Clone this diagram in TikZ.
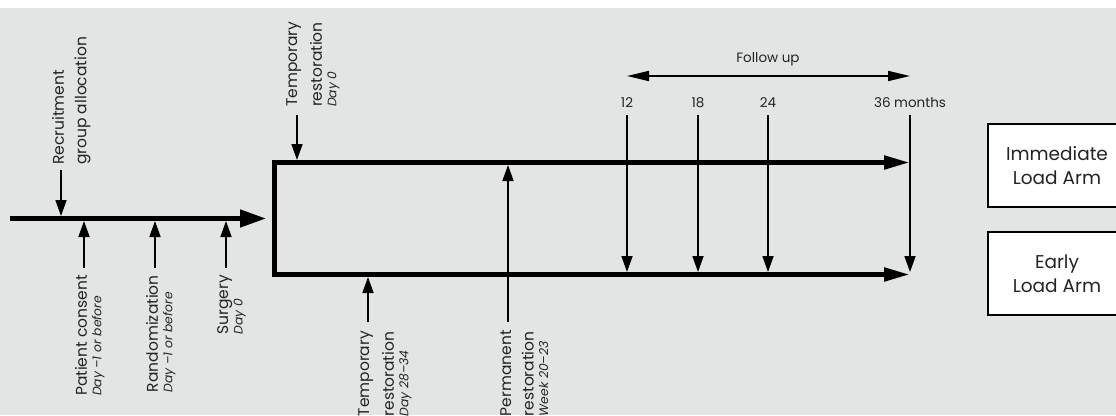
\documentclass[tikz,border=0pt]{standalone}
\usepackage{fontspec}
\setmainfont{Poppins}
\usetikzlibrary{arrows.meta}
\definecolor{bg}{RGB}{227,228,228}
\definecolor{txt}{RGB}{35,35,35}
\newcommand\smtx{\fontsize{12.3}{12}\selectfont\itshape}
\begin{document}
\begin{tikzpicture}[x=1pt,y=-1pt,
  thickarr/.style={line width=4.6pt,-{Triangle[length=26pt,width=17pt]}},
  boxarr/.style={line width=5pt,line join=miter,{Triangle[length=26pt,width=13pt]}-{Triangle[length=26pt,width=13pt]}},
  thinarr/.style={line width=1.7pt,-{Triangle[length=16pt,width=11pt]}},
  fuarr/.style={line width=1.7pt,{Triangle[length=22pt,width=10pt]}-{Triangle[length=22pt,width=10pt]}},
  lab/.style={font=\fontsize{13.5}{14}\selectfont,text=txt,inner sep=0pt},
  rlab/.style={font=\fontsize{15.5}{14.5}\selectfont,text=txt,inner sep=0pt,rotate=90,align=left},
  armbox/.style={draw,line width=2.2pt,fill=white,text=txt,minimum width=138pt,minimum height=83pt,align=center,inner sep=0pt,font=\fontsize{18.5}{24}\selectfont}
]
\useasboundingbox (0,0) rectangle (1116,415);
\fill[white] (0,0) rectangle (1116,415);
\fill[bg] (0,8) rectangle (1116,415);

% main time line
\coordinate (m0) at (10,218.5);
\coordinate (m1) at (266,218.5);
\draw[thickarr] (m0) -- (m1);

% recruitment
\node[rlab,anchor=north west] (rec) at (52,165) {Recruitment\\[8pt]group allocation};
\coordinate (recA) at (61,170);
\coordinate (recB) at (61,216);
\draw[thinarr] (recA) -- (recB);

% patient consent
\node[rlab,anchor=north east] (pc) at (75,275) {Patient consent\\{\smtx Day –1 or before}};
\coordinate (pcA) at (84,268);
\coordinate (pcB) at (84,221);
\draw[thinarr] (pcA) -- (pcB);

% randomization
\node[rlab,anchor=north east] (rnd) at (146,275) {Randomization\\{\smtx Day –1 or before}};
\coordinate (rndA) at (155,268);
\coordinate (rndB) at (155,221);
\draw[thinarr] (rndA) -- (rndB);

% surgery
\node[rlab,anchor=north east] (sur) at (217,275) {Surgery\\{\smtx Day 0}};
\coordinate (surA) at (226,268);
\coordinate (surB) at (226,221);
\draw[thinarr] (surA) -- (surB);

% box of the two arms
\coordinate (tr) at (910,162.5);
\coordinate (tl) at (274,162.5);
\coordinate (bl) at (274,274.5);
\coordinate (br) at (910,274.5);
\draw[boxarr] (tr) -- (tl) -- (bl) -- (br);

% temporary restoration day 0
\node[rlab,anchor=north west] (tr0) at (286,107) {Temporary\\[8pt]restoration\\{\smtx Day 0}};
\coordinate (tr0A) at (297,115);
\coordinate (tr0B) at (297,160);
\draw[thinarr] (tr0A) -- (tr0B);

% temporary restoration day 28-34
\node[rlab,anchor=north east] (tr28) at (358,331) {Temporary\\[8pt]restoration\\{\smtx Day 28–34}};
\coordinate (tr28A) at (368,322);
\coordinate (tr28B) at (368,277);
\draw[thinarr] (tr28A) -- (tr28B);

% permanent restoration
\node[rlab,anchor=north east] (pr) at (500,330) {Permanent\\[8pt]restoration\\{\smtx Week 20–23}};
\coordinate (prA) at (508,322);
\coordinate (prB) at (508,165);
\draw[thinarr] (prA) -- (prB);

% follow up
\node[lab,anchor=base] (fu) at (768,62) {Follow up};
\coordinate (fuL) at (627,76);
\coordinate (fuR) at (910,76);
\draw[fuarr] (fuL) -- (fuR);

\node[lab,anchor=base] (m12) at (627,107) {12};
\node[lab,anchor=base] (m18) at (698,107) {18};
\node[lab,anchor=base] (m24) at (768,107) {24};
\node[lab,anchor=base] (m36) at (910,107) {36 months};
\foreach \n/\x in {12/627,18/698,24/768,36/910}{
  \coordinate (f\n A) at (\x,115);
  \coordinate (f\n B) at (\x,272);
  \draw[thinarr] (f\n A) -- (f\n B);
}

% arms
\node[armbox] (imm) at (1057,165.5) {Immediate\\Load Arm};
\node[armbox] (early) at (1057,273.5) {Early\\Load Arm};
\end{tikzpicture}
\end{document}
